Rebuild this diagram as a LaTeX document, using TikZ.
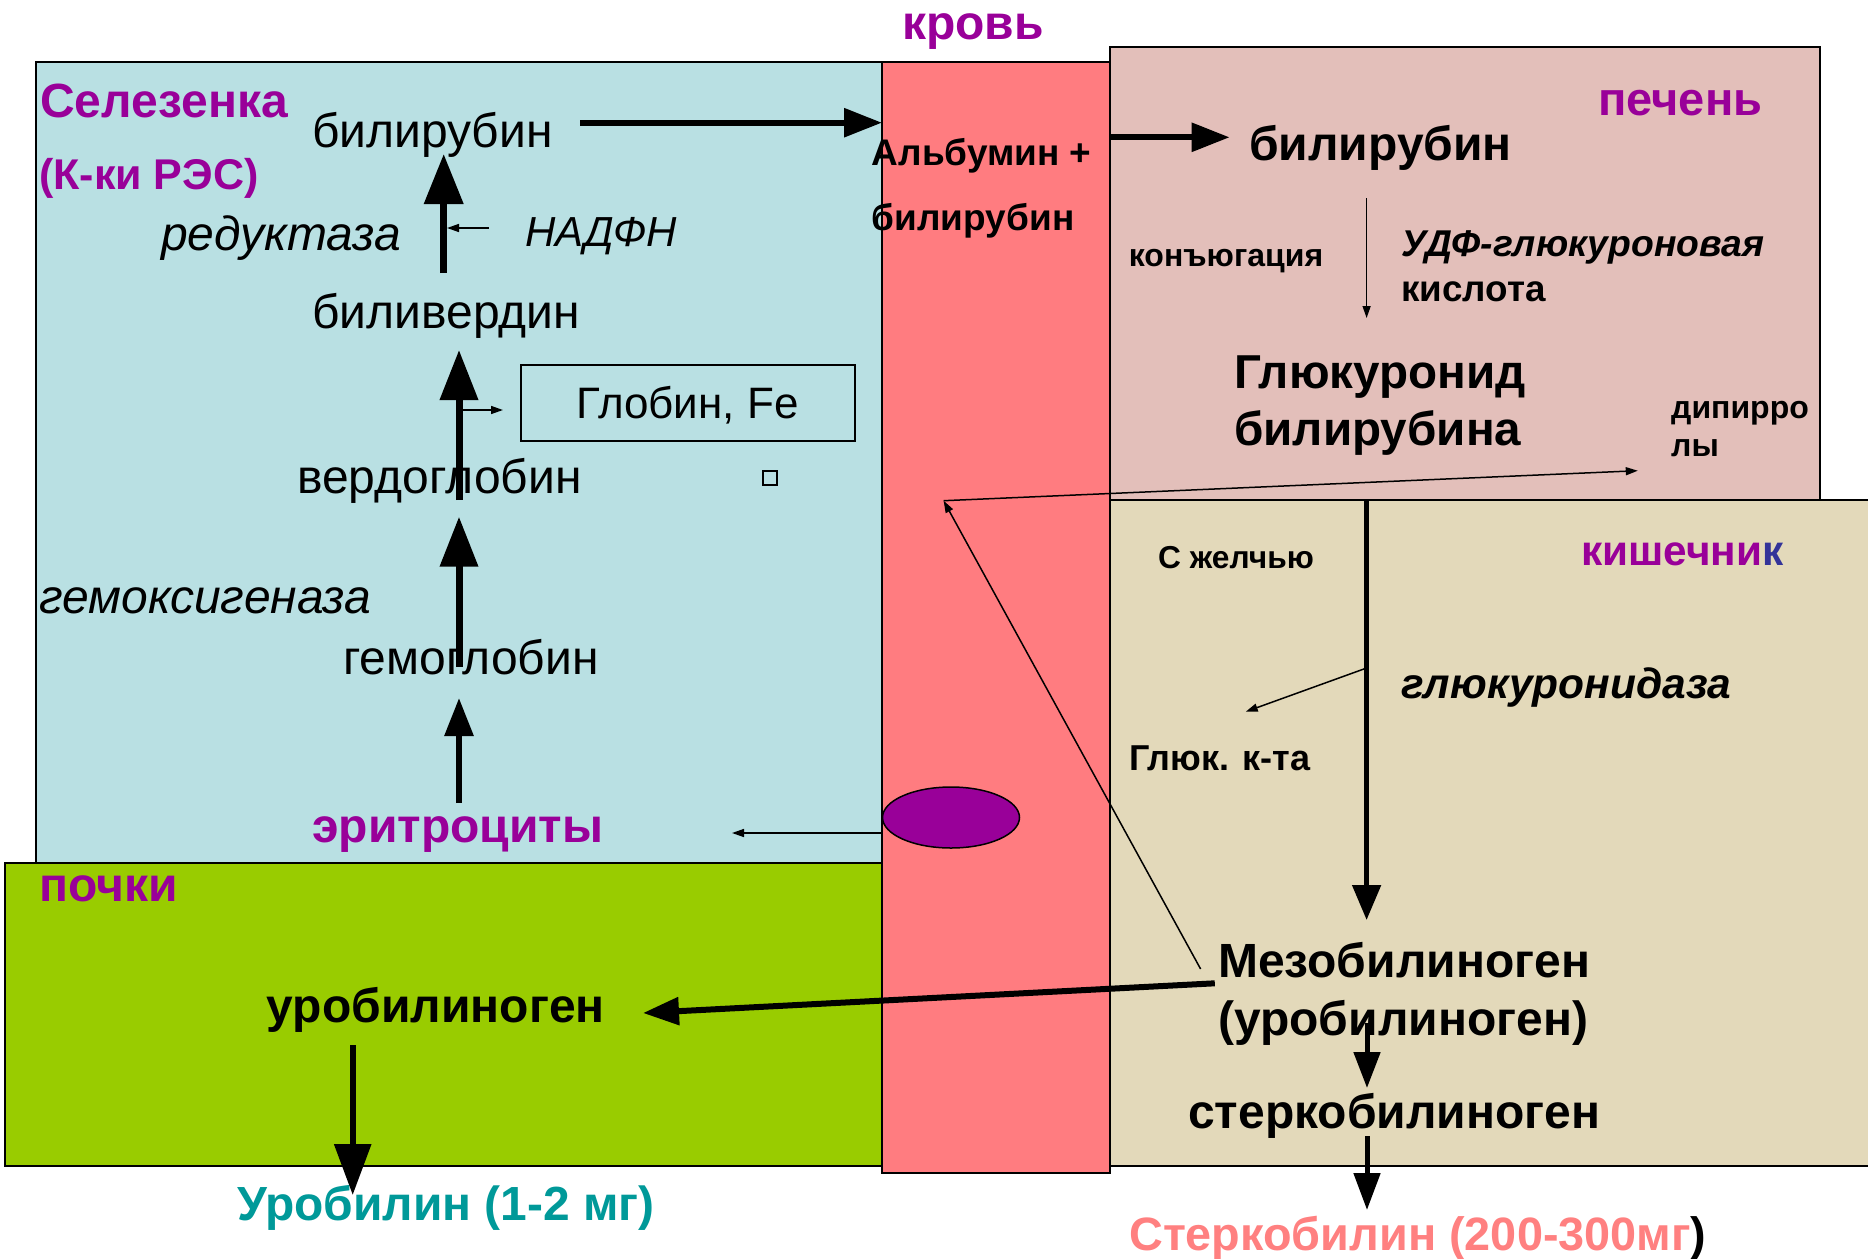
\documentclass[tikz,border=0pt]{standalone}
\usepackage{fontspec}
\setmainfont{Liberation Sans}
\usetikzlibrary{arrows.meta,shapes.geometric}
\definecolor{spleen}{RGB}{185,224,227}
\definecolor{blood}{RGB}{255,124,128}
\definecolor{liver}{RGB}{227,191,186}
\definecolor{gut}{RGB}{227,217,186}
\definecolor{kidney}{RGB}{153,204,0}
\definecolor{purp}{RGB}{153,0,153}
\definecolor{tealc}{RGB}{0,153,153}
\definecolor{salmonc}{RGB}{255,128,128}
\definecolor{bluec}{RGB}{51,51,153}
\newcommand\myfs[1]{\fontsize{#1}{#1}\selectfont}
\tikzset{
  txt/.style={inner sep=0pt, anchor=base west, text=black},
  rg/.style={txt, font=\myfs{#1}},
  bd/.style={txt, font=\myfs{#1}\bfseries},
  it/.style={txt, font=\myfs{#1}\itshape},
  bi/.style={txt, font=\myfs{#1}\bfseries\itshape},
  region/.style={draw=black, line width=2pt},
  bigarr/.style n args={3}{draw=black, line width=#1, -{Triangle[length=#2,width=#3]}},
  thinarr/.style={draw=black, line width=1.5pt, -{Triangle[length=12pt,width=8pt]}},
}
\begin{document}
\begin{tikzpicture}[x=1pt,y=-1pt]
\useasboundingbox (0,0) rectangle (1868,1258);
\fill[white] (0,0) rectangle (1868,1258);
% regions
\filldraw[region, fill=spleen] (35.6,62) rectangle (882,863);
\filldraw[region, fill=blood] (882,62) rectangle (1109.5,1173);
\filldraw[region, fill=liver] (1109.5,46.7) rectangle (1820,500);
\filldraw[region, fill=gut] (1109.5,500) rectangle (1875,1166);
\filldraw[region, fill=kidney] (5,863) rectangle (882,1166);
\node[draw=black, line width=1.5pt, fill=purp, ellipse, minimum width=137pt, minimum height=61pt, inner sep=0pt] (rbc) at (951,817.5) {};
\node[draw=black, line width=2pt, minimum width=334pt, minimum height=76pt, inner sep=0pt, anchor=north west] (globbox) at (519.5,364) {};
\node[draw=black, line width=1.2pt, minimum size=14pt, inner sep=0pt] (sq) at (770,478) {};

% texts
\node[bd=48, text=purp] (krov) at (902,39.3) {кровь};
\node[bd=48, text=purp] (selez) at (40,117) {Селезенка};
\node[bd=43, text=purp] (kki) at (39,189) {(К-ки РЭС)};
\node[rg=48] (bilS) at (312,147) {билирубин};
\node[it=48] (redukt) at (161,250) {редуктаза};
\node[it=42] (nadfn) at (525,246.7) {НАДФН};
\node[rg=48] (biliv) at (312,328.3) {биливердин};
\node[rg=44] (glob) at (576.5,418.3) {Глобин, Fe};
\node[rg=48] (verdo) at (297,493) {вердоглобин};
\node[it=48] (gemoks) at (39,613) {гемоксигеназа};
\node[rg=48] (gemo) at (343,674) {гемоглобин};
\node[bd=48, text=purp] (eritr) at (312,842) {эритроциты};
\node[bd=37] (alb) at (871.6,165.7) {Альбумин +};
\node[bd=37] (bilB) at (871.6,230) {билирубин};
\node[bd=47, text=purp] (pechen) at (1598,115) {печень};
\node[bd=48] (bilL) at (1249,160.7) {билирубин};
\node[bd=32] (konj) at (1128.7,266.7) {конъюгация};
\node[bi=37.3] (udf) at (1401,256.7) {УДФ-глюкуроновая};
\node[bd=36.8] (kisl) at (1401,301.7) {кислота};
\node[bd=47.6] (glukr) at (1234,388) {Глюкуронид};
\node[bd=47.6] (bilna) at (1234,445) {билирубина};
\node[bd=32] (dip1) at (1671,418) {дипирро};
\node[bd=32] (dip2) at (1671,456.7) {лы};
\node[bd=31.7] (zhel) at (1158,568) {С желчью};
\node[bd=42.3, text=purp] (kish) at (1581,565) {кишечни\textcolor{bluec}{к}};
\node[bi=42.5] (glukd) at (1401,698) {глюкуронидаза};
\node[bd=36] (glkta) at (1129,770) {Глюк. к-та};
\node[bd=48] (mezo) at (1218,977) {Мезобилиноген};
\node[bd=48] (urob2) at (1218,1035) {(уробилиноген)};
\node[bd=48] (sterkg) at (1188,1128) {стеркобилиноген};
\node[bd=46.8, text=salmonc] (sterk) at (1129,1250) {Стеркобилин (200-300мг\textcolor{black}{)}};
\node[bd=48] (urobK) at (266.6,1022.7) {уробилиноген};
\node[bd=47.9, text=tealc] (urobil) at (237,1220) {Уробилин (1-2 мг)};
\node[bd=48, text=purp] (pochki) at (39.5,901.7) {почки};

% connector end points
\coordinate (a1s) at (443.7,273); \coordinate (a1e) at (443.7,154);
\coordinate (a2s) at (459,500);   \coordinate (a2e) at (459,350);
\coordinate (a3s) at (459,667);   \coordinate (a3e) at (459,516.7);
\coordinate (a4s) at (459,803);   \coordinate (a4e) at (459,698);
\coordinate (nads) at (489,228);  \coordinate (nade) at (447,228);
\coordinate (gls) at (462,410);   \coordinate (gle) at (503,410);
\coordinate (b1s) at (580,122.7); \coordinate (b1e) at (882,122.7);
\coordinate (b2s) at (1109.5,137.3); \coordinate (b2e) at (1229.6,137.3);
\coordinate (cjs) at (1366.6,198); \coordinate (cje) at (1366.6,318);
\coordinate (ds) at (1366.6,500); \coordinate (de) at (1366.6,920);
\coordinate (gks) at (1366.6,668); \coordinate (gke) at (1245.7,711.7);
\coordinate (ms) at (1367,1023); \coordinate (me) at (1367,1088);
\coordinate (ss) at (1367,1136); \coordinate (se) at (1367,1210);
\coordinate (us) at (1214.8,983.3); \coordinate (ue) at (643,1013);
\coordinate (ks) at (352.7,1045); \coordinate (ke) at (352.7,1195);
\coordinate (mzs) at (1200.6,969); \coordinate (pt) at (943.6,500.7);
\coordinate (dpe) at (1637.8,470.7);
\coordinate (es) at (882,833); \coordinate (ee) at (732,833);

% arrows
\draw[bigarr={7pt}{50pt}{38pt}] (a1s) -- (a1e);
\draw[bigarr={7pt}{50pt}{37pt}] (a2s) -- (a2e);
\draw[bigarr={7pt}{50pt}{37pt}] (a3s) -- (a3e);
\draw[bigarr={6pt}{38pt}{28pt}] (a4s) -- (a4e);
\draw[thinarr] (nads) -- (nade);
\draw[thinarr] (gls) -- (gle);
\draw[bigarr={6pt}{38pt}{28pt}] (b1s) -- (b1e);
\draw[bigarr={6pt}{38pt}{28pt}] (b2s) -- (b2e);
\draw[thinarr] (cjs) -- (cje);
\draw[bigarr={5pt}{35pt}{28pt}] (ds) -- (de);
\draw[thinarr] (gks) -- (gke);
\draw[bigarr={5pt}{36pt}{26pt}] (ms) -- (me);
\draw[bigarr={5pt}{37pt}{26pt}] (ss) -- (se);
\draw[bigarr={6pt}{36pt}{27pt}] (us) -- (ue);
\draw[bigarr={6pt}{51pt}{36pt}] (ks) -- (ke);
\draw[thinarr] (mzs) -- (pt);
\draw[thinarr] (pt) -- (dpe);
\draw[thinarr] (es) -- (ee);
\end{tikzpicture}
\end{document}
